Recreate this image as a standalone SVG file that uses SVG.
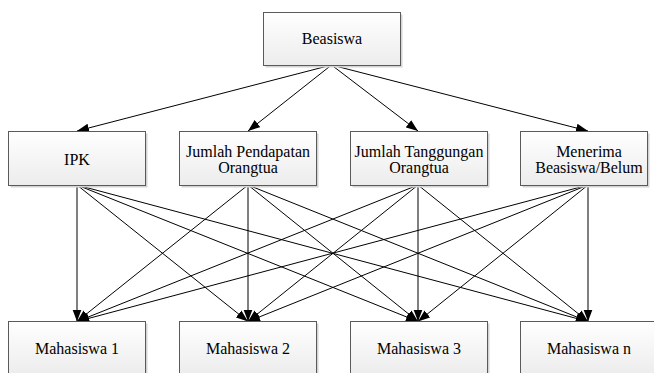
<svg xmlns="http://www.w3.org/2000/svg" width="654" height="373" viewBox="0 0 654 373">
<style>
.box{fill:url(#g);stroke:#5a5a5a;stroke-width:1}
.sh{fill:#d4d4d4}
.t{font-family:"Liberation Serif","Times New Roman",serif;font-size:16px;fill:#000;text-anchor:middle}
.c{stroke:#000;stroke-width:1;fill:none;marker-end:url(#a)}
</style>
<defs>
<linearGradient id="g" x1="0" y1="0" x2="0" y2="1">
<stop offset="0" stop-color="#ffffff"/>
<stop offset="1" stop-color="#ececec"/>
</linearGradient>
<marker id="a" markerUnits="userSpaceOnUse" markerWidth="13" markerHeight="10" refX="12" refY="5" orient="auto">
<path d="M0,0.5 L12,5 L0,9.5 z" fill="#000"/>
</marker>
</defs>
<g id="connectors">
<line class="c" x1="331.5" y1="65" x2="77" y2="131"/>
<line class="c" x1="331.5" y1="65" x2="248" y2="131"/>
<line class="c" x1="331.5" y1="65" x2="418" y2="131"/>
<line class="c" x1="331.5" y1="65" x2="588" y2="131"/>
<line class="c" x1="77" y1="185" x2="77" y2="321.5"/>
<line class="c" x1="77" y1="185" x2="248" y2="321.5"/>
<line class="c" x1="77" y1="185" x2="418" y2="321.5"/>
<line class="c" x1="77" y1="185" x2="588" y2="321.5"/>
<line class="c" x1="248" y1="185" x2="77" y2="321.5"/>
<line class="c" x1="248" y1="185" x2="248" y2="321.5"/>
<line class="c" x1="248" y1="185" x2="418" y2="321.5"/>
<line class="c" x1="248" y1="185" x2="588" y2="321.5"/>
<line class="c" x1="418" y1="185" x2="77" y2="321.5"/>
<line class="c" x1="418" y1="185" x2="248" y2="321.5"/>
<line class="c" x1="418" y1="185" x2="418" y2="321.5"/>
<line class="c" x1="418" y1="185" x2="588" y2="321.5"/>
<line class="c" x1="588" y1="185" x2="77" y2="321.5"/>
<line class="c" x1="588" y1="185" x2="248" y2="321.5"/>
<line class="c" x1="588" y1="185" x2="418" y2="321.5"/>
<line class="c" x1="588" y1="185" x2="588" y2="321.5"/>
</g>
<g id="beasiswa">
<rect class="sh" x="265.5" y="14.5" width="137" height="53"/>
<rect class="box" x="263.5" y="12.5" width="137" height="53"/>
<text class="t" x="332" y="43.5">Beasiswa</text>
</g>
<g id="ipk">
<rect class="sh" x="10.5" y="133.5" width="137" height="54"/>
<rect class="box" x="8.5" y="131.5" width="137" height="54"/>
<text class="t" x="77" y="165">IPK</text>
</g>
<g id="pendapatan">
<rect class="sh" x="181.5" y="133.5" width="137" height="54"/>
<rect class="box" x="179.5" y="131.5" width="137" height="54"/>
<text class="t" x="248" y="157"><tspan x="248">Jumlah Pendapatan</tspan><tspan x="248" y="173">Orangtua</tspan></text>
</g>
<g id="tanggungan">
<rect class="sh" x="352.5" y="133.5" width="137" height="54"/>
<rect class="box" x="350.5" y="131.5" width="137" height="54"/>
<text class="t" x="419" y="157"><tspan x="419">Jumlah Tanggungan</tspan><tspan x="419" y="173">Orangtua</tspan></text>
</g>
<g id="menerima">
<rect class="sh" x="522.5" y="133.5" width="127" height="54"/>
<rect class="box" x="520.5" y="131.5" width="127" height="54"/>
<text class="t" x="589" y="157"><tspan x="589">Menerima</tspan><tspan x="589" y="173">Beasiswa/Belum</tspan></text>
</g>
<g id="mhs1">
<rect class="sh" x="10.5" y="323.5" width="137" height="54"/>
<rect class="box" x="8.5" y="321.5" width="137" height="54"/>
<text class="t" x="77" y="354">Mahasiswa 1</text>
</g>
<g id="mhs2">
<rect class="sh" x="181.5" y="323.5" width="137" height="54"/>
<rect class="box" x="179.5" y="321.5" width="137" height="54"/>
<text class="t" x="248" y="354">Mahasiswa 2</text>
</g>
<g id="mhs3">
<rect class="sh" x="352.5" y="323.5" width="137" height="54"/>
<rect class="box" x="350.5" y="321.5" width="137" height="54"/>
<text class="t" x="419" y="354">Mahasiswa 3</text>
</g>
<g id="mhsn">
<rect class="sh" x="522.5" y="323.5" width="137" height="54"/>
<rect class="box" x="520.5" y="321.5" width="137" height="54"/>
<text class="t" x="589" y="354">Mahasiswa n</text>
</g>
</svg>
